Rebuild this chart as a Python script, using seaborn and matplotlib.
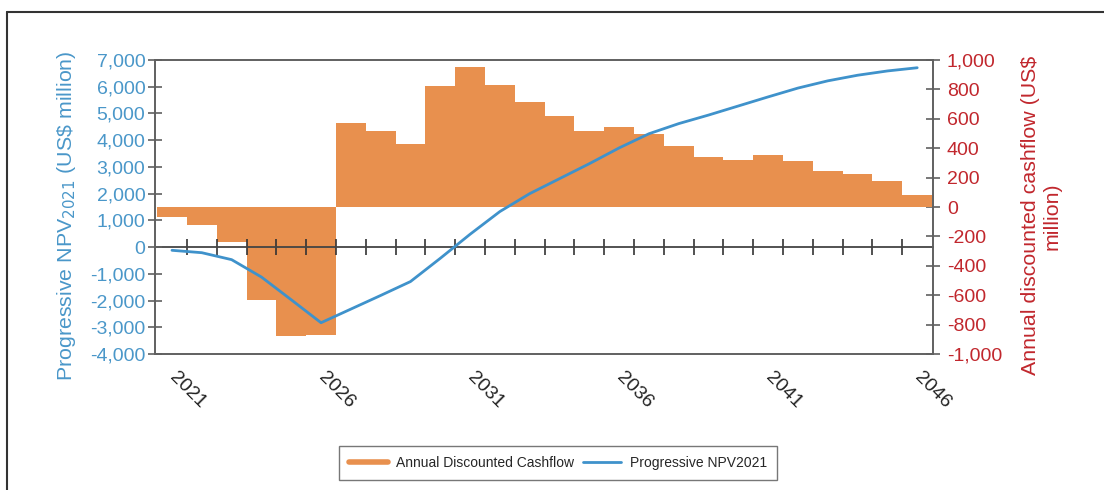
import numpy as np
import pandas as pd
import matplotlib.pyplot as plt
import matplotlib.lines as mlines
import seaborn as sns

# data
years = list(range(2021, 2047))
cashflow = [-65, -120, -240, -630, -875, -868, 571, 519, 431, 821, 950, 832, 712,
            617, 515, 542, 497, 417, 340, 320, 352, 315, 247, 224, 175, 82]
npv = [-120, -210, -470, -1120, -1970, -2830, -2320, -1810, -1290, -420, 480, 1330,
       2000, 2560, 3120, 3710, 4240, 4620, 4940, 5280, 5620, 5950, 6220, 6430, 6590, 6710]
left_ticks = [-4000, -3000, -2000, -1000, 0, 1000, 2000, 3000, 4000, 5000, 6000, 7000]
left_labels = ["-4,000", "-3,000", "-2,000", "-1,000", "0", "1,000", "2,000", "3,000",
               "4,000", "5,000", "6,000", "7,000"]
right_ticks = [-1000, -800, -600, -400, -200, 0, 200, 400, 600, 800, 1000]
right_labels = ["-1,000", "-800", "-600", "-400", "-200", "0", "200", "400", "600",
                "800", "1,000"]
year_labels = ["2021", "2026", "2031", "2036", "2041", "2046"]

df = pd.DataFrame({"year": years, "cashflow": cashflow, "npv": npv})

sns.set_style("white")
plt.rcParams['font.family'] = ['Liberation Sans', 'DejaVu Sans']

bar_col = "#E8904E"
line_col = "#3F92CB"
blue_txt = "#4A97C9"
red_txt = "#C1272D"
spine_col = "#606060"

fig = plt.figure(figsize=(11.04, 4.9), dpi=100)
ax = fig.add_axes([155 / 1104, 1 - 354 / 490, (933 - 155) / 1104, (354 - 60) / 490])
ax2 = ax.twinx()

# bars on the right axis
sns.barplot(data=df, x="year", y="cashflow", native_scale=True, width=1.0,
            color=bar_col, saturation=1, linewidth=0, ax=ax2)
# line on the left axis
sns.lineplot(data=df, x="year", y="npv", color=line_col, linewidth=2.0, ax=ax)

ax.set_zorder(ax2.get_zorder() + 1)
ax.patch.set_visible(False)

ax.set_ylim(-4000, 7000)
ax2.set_ylim(-1000, 1000)
ax.set_xlim(2020.43, 2046.53)
ax2.set_xlim(2020.43, 2046.53)

ax.set_yticks(left_ticks)
ax.set_yticklabels(left_labels)
ax2.set_yticks(right_ticks)
ax2.set_yticklabels(right_labels)
ax.tick_params(axis='y', direction='inout', length=10, width=1.2, color=spine_col,
               labelcolor=blue_txt, labelsize=14, pad=2)
ax2.tick_params(axis='y', direction='inout', length=10, width=1.2, color=spine_col,
                labelcolor=red_txt, labelsize=14, pad=5)

ax.set_xticks([int(y) for y in year_labels])
ax.set_xticklabels(year_labels)
ax.tick_params(axis='x', length=0, labelsize=14, pad=15, labelcolor="#222222")
for lab in ax.get_xticklabels():
    lab.set_rotation(-45)
    lab.set_ha('left')
    lab.set_va('center')
    lab.set_rotation_mode('anchor')
ax2.tick_params(axis='x', length=0, labelbottom=False)
ax2.set_xlabel("")
ax.set_xlabel("")

# zero axis with ticks between years
sec = ax.secondary_xaxis(4 / 11)
sec.set_xticks([y + 0.5 for y in years[:-1]])
sec.tick_params(direction='inout', length=12, width=1.2, color="#333333",
                labelbottom=False, labeltop=False)
for s in sec.spines.values():
    s.set_color("#444444")
    s.set_linewidth(1.3)

for a in (ax, ax2):
    for s in a.spines.values():
        s.set_color(spine_col)
        s.set_linewidth(1.2)

ax.set_ylabel(r"Progressive NPV$_{2021}$ (US\$ million)", color=blue_txt, fontsize=15.4,
              labelpad=4)
ax.yaxis.set_label_coords(-0.099, 0.47)
ax2.set_ylabel("Annual discounted cashflow (US$\nmillion)", color=red_txt, fontsize=15.4,
               labelpad=14, multialignment='center')
ax2.yaxis.set_label_coords(1.113, 0.47)

# legend
h1 = mlines.Line2D([], [], color=bar_col, linewidth=4)
h2 = mlines.Line2D([], [], color=line_col, linewidth=2)
leg = fig.legend([h1, h2], ["Annual Discounted Cashflow", "Progressive NPV2021"],
                 loc='center', bbox_to_anchor=(558 / 1104, 1 - 463 / 490), ncol=2,
                 fontsize=10, frameon=True, fancybox=False, handlelength=2.8,
                 columnspacing=0.6, handletextpad=0.6, borderpad=0.7)
leg.get_frame().set_edgecolor("#555555")
leg.get_frame().set_linewidth(1.0)

# outer border (top and left only)
fig.add_artist(mlines.Line2D([7 / 1104, 1], [1 - 12 / 490, 1 - 12 / 490],
                             color="#333333", linewidth=1.5, transform=fig.transFigure))
fig.add_artist(mlines.Line2D([7 / 1104, 7 / 1104], [0, 1 - 12 / 490],
                             color="#333333", linewidth=1.5, transform=fig.transFigure))

plt.savefig("out.png", dpi=100)
